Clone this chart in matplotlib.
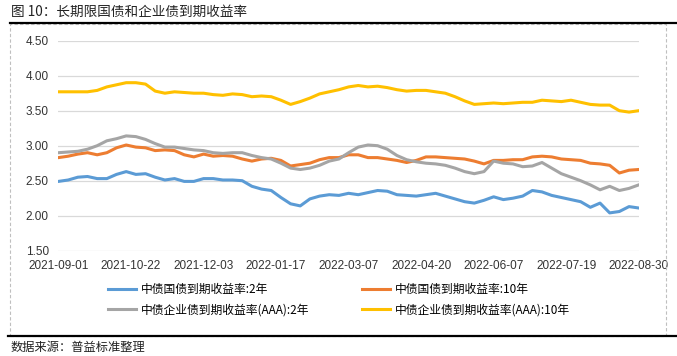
import matplotlib
matplotlib.use("Agg")
import matplotlib.pyplot as plt
from matplotlib.lines import Line2D
from matplotlib.patches import Rectangle

plt.rcParams['font.family'] = ['Noto Sans CJK SC', 'DejaVu Sans']

# trading-day index (every 4th trading day) and axis labels
day_idx = list(range(0, 241, 4))
tick_pos = list(range(0, 241, 30))
tick_labels = ['2021-09-01', '2021-10-22', '2021-12-03', '2022-01-17', '2022-03-07',
               '2022-04-20', '2022-06-07', '2022-07-19', '2022-08-30']

gov_2y = [2.49, 2.51, 2.55, 2.56, 2.53, 2.53, 2.59, 2.63, 2.59, 2.60, 2.55, 2.51, 2.53, 2.49, 2.49, 2.53,
          2.53, 2.51, 2.51, 2.50, 2.42, 2.38, 2.36, 2.26, 2.17, 2.14, 2.24, 2.28, 2.30, 2.29, 2.32,
          2.30, 2.33, 2.36, 2.35, 2.30, 2.29, 2.28, 2.30, 2.32, 2.28, 2.24, 2.20, 2.18, 2.22, 2.27,
          2.23, 2.25, 2.28, 2.36, 2.34, 2.29, 2.26, 2.23, 2.20, 2.12, 2.18, 2.04, 2.06, 2.13, 2.11]
gov_10y = [2.83, 2.85, 2.88, 2.90, 2.87, 2.90, 2.97, 3.01, 2.98, 2.97, 2.93, 2.94, 2.93, 2.87, 2.84, 2.88,
           2.85, 2.86, 2.85, 2.81, 2.78, 2.81, 2.82, 2.79, 2.71, 2.73, 2.75, 2.80, 2.83, 2.83, 2.87,
           2.87, 2.83, 2.83, 2.81, 2.79, 2.76, 2.79, 2.84, 2.84, 2.83, 2.82, 2.81, 2.78, 2.74, 2.79,
           2.79, 2.80, 2.80, 2.84, 2.85, 2.84, 2.81, 2.80, 2.79, 2.75, 2.74, 2.72, 2.61, 2.65, 2.66]
corp_2y = [2.90, 2.91, 2.92, 2.95, 3.00, 3.07, 3.10, 3.14, 3.13, 3.09, 3.03, 2.98, 2.98, 2.96, 2.94, 2.93,
           2.90, 2.89, 2.90, 2.90, 2.86, 2.83, 2.81, 2.75, 2.68, 2.66, 2.68, 2.72, 2.78, 2.81, 2.90,
           2.98, 3.01, 3.00, 2.95, 2.86, 2.80, 2.77, 2.75, 2.74, 2.72, 2.68, 2.63, 2.60, 2.63, 2.78,
           2.75, 2.74, 2.70, 2.71, 2.76, 2.68, 2.60, 2.55, 2.50, 2.44, 2.37, 2.42, 2.36, 2.39, 2.44]
corp_10y = [3.77, 3.77, 3.77, 3.77, 3.79, 3.84, 3.87, 3.90, 3.90, 3.88, 3.78, 3.75, 3.77, 3.76, 3.75, 3.75,
            3.73, 3.72, 3.74, 3.73, 3.70, 3.71, 3.70, 3.65, 3.59, 3.63, 3.68, 3.74, 3.77, 3.80, 3.84,
            3.86, 3.84, 3.85, 3.83, 3.80, 3.78, 3.79, 3.79, 3.77, 3.75, 3.70, 3.64, 3.59, 3.60, 3.61,
            3.60, 3.61, 3.62, 3.62, 3.65, 3.64, 3.63, 3.65, 3.62, 3.59, 3.58, 3.58, 3.50, 3.48, 3.50]

W, H = 677, 356
fig = plt.figure(figsize=(W / 100, H / 100), dpi=100)

# frame decorations: title rule, dashed chart box, bottom rule
fig.text(11 / W, 1 - 12 / H, '图 10：长期限国债和企业债到期收益率', fontsize=9.8,
         va='center', ha='left', color='#222222')
fig.add_artist(Rectangle((10 / W, 1 - 335.5 / H), 656 / W, 312 / H, fill=False,
                         ec='#BFBFBF', lw=0.8, ls=(0, (3, 2)), transform=fig.transFigure))
fig.add_artist(Line2D([10 / W, 1], [1 - 23.3 / H] * 2, color='black', lw=1.6,
                      transform=fig.transFigure))
fig.add_artist(Line2D([8 / W, 1], [1 - 335.7 / H] * 2, color='black', lw=1.6,
                      transform=fig.transFigure))
fig.text(11 / W, 1 - 347 / H, '数据来源：普益标准整理', fontsize=8.8,
         va='center', ha='left', color='#222222')

ax = fig.add_axes([58.5 / W, 1 - 250.7 / H, 580.2 / W, 210 / H])
lw = 2.2
l1, = ax.plot(day_idx, gov_2y, color='#5B9BD5', lw=lw, label='中债国债到期收益率:2年')
l2, = ax.plot(day_idx, gov_10y, color='#ED7D31', lw=lw, label='中债国债到期收益率:10年')
l3, = ax.plot(day_idx, corp_2y, color='#A5A5A5', lw=lw, label='中债企业债到期收益率(AAA):2年')
l4, = ax.plot(day_idx, corp_10y, color='#FFC000', lw=lw, label='中债企业债到期收益率(AAA):10年')

ax.set_xlim(0, 240)
ax.set_ylim(1.5, 4.5)
ax.set_yticks([1.5, 2.0, 2.5, 3.0, 3.5, 4.0, 4.5])
ax.set_yticklabels(['%.2f' % v for v in [1.5, 2.0, 2.5, 3.0, 3.5, 4.0, 4.5]])
ax.set_xticks(tick_pos)
ax.set_xticklabels(tick_labels)
ax.grid(axis='y', color='#D9D9D9', lw=0.9)
ax.set_axisbelow(True)
for s in ax.spines.values():
    s.set_visible(False)
ax.tick_params(axis='y', length=0, pad=7, labelsize=8.5, labelcolor='#333333')
ax.tick_params(axis='x', length=0, pad=7, labelsize=8.5, labelcolor='#333333')
for t in ax.get_xticklabels() + ax.get_yticklabels():
    t.set_fontfamily(['Liberation Sans', 'DejaVu Sans'])

fig.legend(handles=[l1, l3, l2, l4], ncol=2, frameon=False, loc='upper left',
           bbox_to_anchor=(108 / W, 1 - 283 / H), fontsize=8.5, handlelength=2.4,
           handletextpad=0.4, columnspacing=4.4, labelspacing=0.62,
           borderpad=0, borderaxespad=0)

fig.savefig('out.png', dpi=100)
